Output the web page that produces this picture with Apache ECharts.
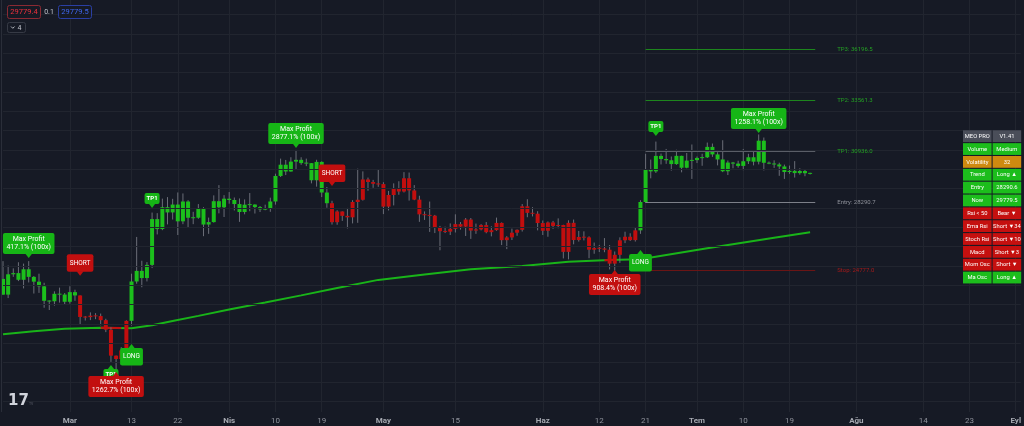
<!DOCTYPE html>
<html><head><meta charset="utf-8">
<script src="https://cdn.jsdelivr.net/npm/echarts@6/dist/echarts.min.js"></script>
<style>html,body{margin:0;padding:0;background:#161A25;}#c{width:1024px;height:426px;}</style>
</head><body><div id="c"></div><script>
// ---------------- DATA ----------------
const startDate = '2023-02-16';
const categoryCount = 199; // Feb 16 .. Sep 2
// daily [open, high, low, close] from 2023-02-16 to 2023-07-23
const ohlc = [
[24330,25250,23505,23518],[23518,25021,23339,24569],[24569,24877,24437,24631],[24631,25192,24218,24285],
[24285,25121,23840,24829],[24829,25250,24148,24436],[24436,24476,23574,24188],[24188,24600,23608,23947],
[23947,24132,22841,23198],[23198,23219,22722,23175],[23175,23689,22950,23561],[23561,23880,23106,23522],
[23522,23600,23020,23148],
[23148,23950,23050,23647],[23647,23773,23200,23476],[23476,23479,21971,22363],[22363,22410,22180,22355],
[22355,22600,22200,22430],[22430,22560,22250,22410],[22410,22540,21930,22197],[22197,22270,21580,21705],
[21705,21830,20040,20363],[20363,20370,19550,20187],[20187,20800,19900,20633],[20633,22190,20400,22163],
[22163,24600,21920,24198],[24198,26500,24080,24746],[24746,25270,23900,24375],[24375,25200,24200,25055],
[25055,27760,24890,27423],[27423,27730,26630,26908],[26908,28480,26850,28038],[28038,28560,27150,27767],
[27767,28470,27400,28175],[28175,28800,26600,27307],[27307,28750,27160,28333],[28333,28400,26980,27493],
[27493,27800,27160,27494],[27494,28200,27440,27994],[27994,28040,26540,27140],[27140,27500,26660,27268],
[27268,28650,27240,28348],[28348,29180,27720,28033],[28033,28660,27530,28478],
[28478,28820,28220,28411],[28411,28540,27870,28200],[28200,28490,27280,27790],[27790,28440,27670,28169],
[28169,28770,27830,28175],[28175,28190,27710,28044],[28044,28100,27790,27925],[27925,28170,27880,27947],
[27947,28530,27800,28333],[28333,29770,28170,29653],[29653,30550,29600,30235],[30235,30480,29700,29884],
[29884,30620,29870,30395],[30395,31000,29970,30486],[30486,30620,30230,30318],[30318,30550,30160,30316],
[30316,30320,29270,29431],[29431,30490,29100,30380],[30380,30410,28560,28797],[28797,29080,28010,28243],
[28243,28370,27140,27263],[27263,27880,27130,27817],[27817,27820,27330,27591],[27591,28000,26940,27514],
[27514,28400,27200,28307],[28307,30030,27230,28422],[28422,29890,28380,29473],[29473,29570,28890,29340],
[29340,29450,29040,29248],[29248,29960,29090,29233],
[29233,29330,27680,28068],[28068,28880,27870,28669],[28669,29270,28130,29027],[29027,29380,28680,28848],
[28848,29850,28800,29534],[29534,29830,28380,28904],[28904,29180,28400,28430],[28430,28630,27280,27668],
[27668,27820,27380,27629],[27629,28330,26760,27599],[27599,27640,26700,26969],[26969,27070,25810,26796],
[26796,27030,26700,26775],[26775,27200,26600,26918],[26918,27670,26730,27163],[27163,27270,26880,27033],
[27033,27480,26550,27400],[27400,27480,26400,26830],[26830,27190,26660,26890],[26890,27160,26840,27112],
[27112,27270,26690,26747],[26747,27050,26530,26851],[26851,27500,26820,27226],[27226,27250,26080,26334],
[26334,26540,25870,26476],[26476,26930,26340,26720],[26720,26890,26560,26868],[26868,28200,26780,28085],
[28085,28450,27520,27745],[27745,28040,27560,27702],[27702,27830,26840,27219],
[27219,27350,26600,26819],[26819,27300,26510,27249],[27249,27330,26920,27069],[27069,27460,26950,27116],
[27116,27130,25390,25729],[25729,27360,25340,27230],[27230,27400,26120,26340],[26340,26810,26260,26499],
[26499,26790,26320,26477],[26477,26530,25400,25841],[25841,26210,25630,25925],[25925,26090,25720,25903],
[25903,26440,25710,25841],[25841,26080,24820,25120],[25120,25750,24760,25576],[25576,26480,25160,26327],
[26327,26770,26180,26511],[26511,26690,26290,26336],[26336,26980,26260,26841],[26841,28400,26660,28307],
[28307,30800,28260,29994],[29994,30500,29530,29890],[29890,31430,29810,30690],[30690,30810,30250,30529],
[30529,31050,30280,30465],[30465,30660,29930,30267],[30267,31010,30230,30693],[30693,30700,29840,30078],
[30078,30840,30050,30446],[30446,31280,29500,30472],
[30472,30660,30320,30585],[30585,30800,30180,30617],[30617,31380,30580,31156],[31156,31330,30640,30767],
[30767,30880,30200,30507],[30507,31500,29850,29896],[29896,30450,29700,30346],[30346,30380,30050,30292],
[30292,30440,30080,30172],[30172,31050,29950,30414],[30414,30800,30270,30620],[30620,30980,30200,30391],
[30391,31800,30250,31476],[31476,31640,29940,30334],[30334,30400,30260,30295],[30295,30460,30070,30249],
[30249,30340,29660,30145],[30145,30240,29500,29856],[29856,30190,29760,29917],[29917,30420,29570,29801],
[29801,30050,29720,29909],[29909,29990,29640,29794],[29794,29820,29730,29779.5]
];
// trend signals (candle colouring)
const trendSignals = [
  ['2023-02-16','long'],['2023-03-03','short'],['2023-03-13','long'],['2023-04-21','short'],['2023-06-20','long']
];
// long moving average, read at sampled dates
const maPoints = [
  ['2023-02-16',21470],['2023-02-22',21630],['2023-02-28',21750],['2023-03-07',21810],['2023-03-13',21780],
  ['2023-03-17',21930],['2023-03-21',22150],['2023-03-26',22420],['2023-04-01',22750],['2023-04-08',23110],
  ['2023-04-15',23480],['2023-04-22',23860],['2023-04-30',24280],['2023-05-09',24560],['2023-05-18',24830],
  ['2023-05-28',25000],['2023-06-06',25220],['2023-06-14',25310],['2023-06-20',25345],['2023-07-03',25920],
  ['2023-07-16',26460],['2023-07-23',26740]
];
// MA segments where price closed below it
const maBelow = [
  ['2023-03-07',21810],['2023-03-11',21790],['2023-03-12','-'],
  ['2023-06-13',25297],['2023-06-14',25310],['2023-06-15',25316]
];
const gridLevels = [18000,19000,20000,21000,22000,23000,24000,25000,26000,27000,28000,29000,30000,31000,32000,33000,34000,35000,36000,37000,38000];
const levelStart = '2023-06-21', levelEnd = '2023-07-24';
const levels = [
  ['TP3', 36196.5, 'tp'], ['TP2', 33561.3, 'tp'], ['TP1', 30936.0, 'tphit'], ['Entry', 28290.7, 'entry'], ['Stop', 24777.0, 'stop']
];
const annotations = [
  ['2023-02-21', 25410, 'profit', 'green', 'down', 'Max Profit\n417.1% (100x)'],
  ['2023-03-03', 24490, 'signal', 'red', 'down', 'SHORT'],
  ['2023-03-09', 19880, 'tp', 'green', 'up', 'TP1'],
  ['2023-03-13', 20965, 'signal', 'green', 'up', 'LONG'],
  ['2023-03-10', 19520, 'profit', 'red', 'up', 'Max Profit\n1262.7% (100x)'],
  ['2023-03-17', 28000, 'tp', 'green', 'down', 'TP1'],
  ['2023-04-14', 31100, 'profit', 'green', 'down', 'Max Profit\n2877.1% (100x)'],
  ['2023-04-21', 29130, 'signal', 'red', 'down', 'SHORT'],
  ['2023-06-15', 24790, 'profit', 'red', 'up', 'Max Profit\n908.4% (100x)'],
  ['2023-06-20', 25830, 'signal', 'green', 'up', 'LONG'],
  ['2023-06-23', 31720, 'tp', 'green', 'down', 'TP1'],
  ['2023-07-13', 31870, 'profit', 'green', 'down', 'Max Profit\n1258.1% (100x)']
];
const tickLabels = [
  ['2023-03-01','Mar'],['2023-03-13','13'],['2023-03-22','22'],['2023-04-01','Nis'],['2023-04-10','10'],
  ['2023-04-19','19'],['2023-05-01','May'],['2023-05-15','15'],['2023-06-01','Haz'],['2023-06-12','12'],
  ['2023-06-21','21'],['2023-07-01','Tem'],['2023-07-10','10'],['2023-07-19','19'],['2023-08-01','Ağu'],
  ['2023-08-14','14'],['2023-08-23','23'],['2023-09-01','Eyl']
];
const monthNames = ['Mar','Nis','May','Haz','Tem','Ağu','Eyl'];
const tableRows = [
  ['MEO PRO','V1.41','head'],['Volume','Medium','green'],['Volatility','32','orange'],['Trend','Long ▲','green'],
  ['Entry','28290.6','green'],['Now','29779.5','green'],['Rsi < 50','Bear ▼','red'],['Ema Rsi','Short ▼34','red'],
  ['Stoch Rsi','Short ▼10','red'],['Macd','Short ▼3','red'],['Mom Osc','Short ▼','red'],['Ma Osc','Long ▲','green']
];
const quote = ['29779.4', '0.1', '29779.5', '4'];

// ---------------- STYLE ----------------
const BG = '#161A25', GRIDC = '#21252f';
const C_UP = '#1cbf1c', C_DN = '#c20e0e', WICK = '#6b6e78';
const L_GREEN = '#16b516', L_RED = '#c20f0f';
const FONT = 'Roboto, "Liberation Sans", sans-serif';
const cellColors = {head:'#4a4e59', green:'#1cbd1c', orange:'#cf8a10', red:'#c5100f'};
const levelStyles = {
  tp:{line:'#1d861d', text:'#24a024'}, tphit:{line:'#5a5e67', text:'#24a024'},
  entry:{line:'#7d8089', text:'#8e919a'}, stop:{line:'#6a1515', text:'#a51a1a'}
};
const labelKinds = {
  profit:{fontSize:7, lineHeight:8, padding:[2.5,3.5], weight:'normal'},
  signal:{fontSize:6.5, lineHeight:8, padding:[4.8,3], weight:'normal'},
  tp:{fontSize:6, lineHeight:7, padding:[2,2], weight:'bold'}
};

// ---------------- BUILD ----------------
function addDays(s, n){ const d = new Date(s + 'T00:00:00Z'); d.setUTCDate(d.getUTCDate() + n); return d.toISOString().slice(0,10); }
const dates = [];
for (let i = 0; i < categoryCount; i++) dates.push(addDays(startDate, i));
const labelMap = new Map(tickLabels);
function trendAt(date){ let t = 'long'; for (const s of trendSignals) if (s[0] <= date) t = s[1]; return t; }
const candleData = ohlc.map((r, i) => [dates[i], r[0], r[1], r[2], r[3]]);

const chart = echarts.init(document.getElementById('c'), null, {renderer:'canvas'});

function renderCandle(params, api){
  const idx = api.value(0);
  const o = api.value(1), h = api.value(2), l = api.value(3), c = api.value(4);
  const pO = api.coord([idx, o]), pH = api.coord([idx, h]), pL = api.coord([idx, l]), pC = api.coord([idx, c]);
  const x = pH[0];
  const w = 4;
  let top = Math.min(pO[1], pC[1]);
  let hh = Math.abs(pO[1] - pC[1]);
  if (hh < 1) { top -= (1 - hh) / 2; hh = 1; }
  const color = trendAt(dates[params.dataIndex]) === 'long' ? C_UP : C_DN;
  return {type:'group', children:[
    {type:'line', shape:{x1:x, y1:pH[1], x2:x, y2:pL[1]}, style:{stroke:WICK, lineWidth:1}},
    {type:'rect', shape:{x:x - w/2, y:top, width:w, height:hh}, style:{fill:color}}
  ]};
}

function renderLabel(params, api){
  const a = annotations[params.dataIndex];
  const p = api.coord([api.value(0), api.value(1)]);
  const k = labelKinds[a[2]];
  const color = a[3] === 'green' ? L_GREEN : L_RED;
  const up = a[4] === 'up';
  const ah = 4, aw = 3.5;
  const tipY = p[1];
  const baseY = up ? tipY + ah : tipY - ah;
  const joinY = up ? baseY + 0.6 : baseY - 0.6;
  return {type:'group', children:[
    {type:'text', x:p[0], y:baseY, style:{
      text:a[5], fill:'#ffffff', fontSize:k.fontSize, fontFamily:FONT, fontWeight:k.weight,
      lineHeight:k.lineHeight, align:'center', verticalAlign: up ? 'top' : 'bottom',
      backgroundColor:color, padding:k.padding, borderRadius:2
    }},
    {type:'polygon', shape:{points:[[p[0], tipY], [p[0]-aw, joinY], [p[0]+aw, joinY]]}, style:{fill:color}}
  ]};
}

// graphics: quote boxes, table, logo, border
const graphics = [];
graphics.push({type:'line', shape:{x1:1.5,y1:0,x2:1.5,y2:412}, style:{stroke:'#2a2e39', lineWidth:1}, z:10});
graphics.push({type:'rect', shape:{x:7.5,y:5.5,width:33,height:13,r:2}, style:{fill:BG, stroke:'#8a2a33', lineWidth:1}, z:10});
graphics.push({type:'text', x:24, y:12.5, style:{text:quote[0], fill:'#f0303c', fontSize:7.5, fontFamily:FONT, align:'center', verticalAlign:'middle'}, z:11});
graphics.push({type:'text', x:49, y:12.5, style:{text:quote[1], fill:'#c3c6ce', fontSize:7, fontFamily:FONT, align:'center', verticalAlign:'middle'}, z:11});
graphics.push({type:'rect', shape:{x:58.5,y:5.5,width:33,height:13,r:2}, style:{fill:BG, stroke:'#2a3fa3', lineWidth:1}, z:10});
graphics.push({type:'text', x:75, y:12.5, style:{text:quote[2], fill:'#3f68f0', fontSize:7.5, fontFamily:FONT, align:'center', verticalAlign:'middle'}, z:11});
graphics.push({type:'rect', shape:{x:7.5,y:22.5,width:18,height:10,r:2}, style:{fill:BG, stroke:'#363a45', lineWidth:1}, z:10});
graphics.push({type:'polyline', shape:{points:[[11,26.5],[12.8,28.3],[14.6,26.5]]}, style:{stroke:'#c3c6ce', lineWidth:0.9, fill:null}, z:11});
graphics.push({type:'text', x:19.5, y:27.8, style:{text:quote[3], fill:'#c3c6ce', fontSize:7, fontFamily:FONT, align:'center', verticalAlign:'middle'}, z:11});
graphics.push({type:'text', x:8, y:401, style:{text:'17', fill:'#d1d4dc', fontSize:15, fontWeight:900, fontFamily:'"DejaVu Sans", sans-serif', verticalAlign:'middle'}, z:11});
graphics.push({type:'text', x:29, y:404, style:{text:'TV', fill:'#5d606b', fontSize:3.5, fontFamily:FONT, verticalAlign:'middle'}, z:11});
const tx0 = 963, colW = 28.6, colGap = 1, ty0 = 130.3, pitch = 12.85, cellH = 11.8;
tableRows.forEach((r, i) => {
  const y = ty0 + i * pitch;
  const col = cellColors[r[2]];
  [r[0], r[1]].forEach((t, j) => {
    const x = tx0 + j * (colW + colGap);
    graphics.push({type:'rect', shape:{x:x, y:y, width:colW, height:cellH}, style:{fill:col}, z:10});
    graphics.push({type:'text', x:x + colW/2, y:y + cellH/2 + 0.3, style:{text:t, fill:'#ffffff', fontSize:5.8, fontFamily:FONT, align:'center', verticalAlign:'middle'}, z:11});
  });
});

const option = {
  backgroundColor: BG,
  animation: false,
  grid: {left:3, top:0, width:1024.5, height:412},
  xAxis: {
    type:'category', data:dates, boundaryGap:false,
    axisLine:{show:false}, axisTick:{show:false},
    axisLabel:{
      interval:(i, v) => labelMap.has(v), color:'#8f929b', fontSize:8, fontFamily:FONT, margin:5,
      formatter:(v) => { const t = labelMap.get(v) || ''; return monthNames.includes(t) ? '{m|' + t + '}' : t; },
      rich:{m:{color:'#a6a9b1', fontSize:8, fontWeight:'bold', fontFamily:FONT}}
    },
    splitLine:{show:true, interval:(i, v) => labelMap.has(v), lineStyle:{color:GRIDC, width:1}}
  },
  yAxis: {type:'value', min:17450, max:38750, show:false},
  series: [
    {type:'line', data:[], silent:true, z:1,
     markLine:{silent:true, animation:false, symbol:['none','none'], label:{show:false},
       lineStyle:{color:GRIDC, width:1, type:'solid'}, data:gridLevels.map(v => ({yAxis:v}))}},
    {type:'line', data:[], silent:true, z:2,
     markLine:{silent:true, animation:false, symbol:['none','none'],
       data: levels.map(l => {
         const s = levelStyles[l[2]];
         return [
           {coord:[levelStart, l[1]], lineStyle:{color:s.line, width:1, type:'solid'},
            label:{show:true, position:'end', distance:22, formatter:l[0] + ': ' + l[1].toFixed(1), color:s.text, fontSize:6, fontFamily:FONT}},
           {coord:[levelEnd, l[1]]}
         ];
       })}},
    {type:'line', data:maPoints, showSymbol:false, silent:true, z:3,
     lineStyle:{color:'#19b419', width:2}},
    {type:'line', data:maBelow, showSymbol:false, silent:true, z:3, connectNulls:false,
     lineStyle:{color:'#c20f0f', width:2}},
    {type:'custom', data:candleData, renderItem:renderCandle, z:4, silent:true,
     encode:{x:0, y:[1,2,3,4]}},
    {type:'custom', data:annotations.map(a => [a[0], a[1]]), renderItem:renderLabel, z:6, silent:true,
     encode:{x:0, y:1}, clip:false}
  ],
  graphic: graphics
};
chart.setOption(option);
</script></body></html>
